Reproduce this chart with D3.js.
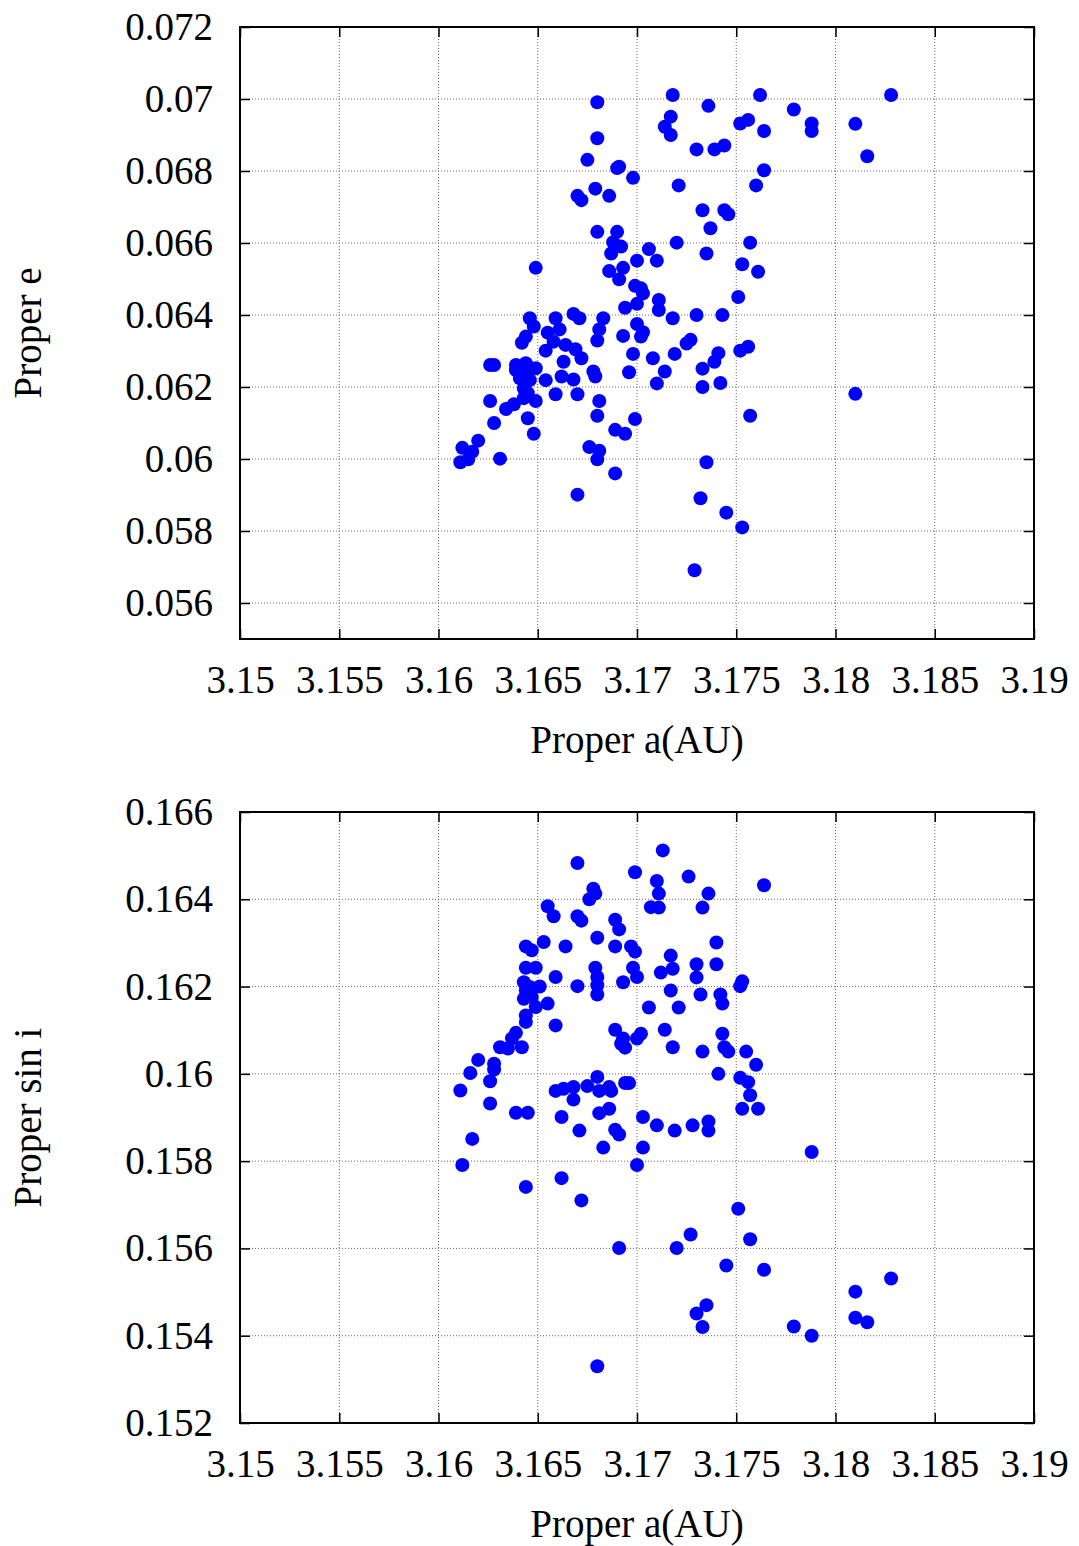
<!DOCTYPE html>
<html>
<head>
<meta charset="utf-8">
<script src="https://cdn.jsdelivr.net/npm/d3@7"></script>
<style>
body { margin: 0; background: #fff; }
text { font-family: "Liberation Serif", "DejaVu Serif", serif; }
</style>
</head>
<body>
<svg id="chart" width="1079" height="1546"></svg>
<script>
// tick values
var aTicks = [3.15, 3.155, 3.16, 3.165, 3.17, 3.175, 3.18, 3.185, 3.19];
var eTicks = [0.056, 0.058, 0.06, 0.062, 0.064, 0.066, 0.068, 0.07, 0.072];
var sinTicks = [0.152, 0.154, 0.156, 0.158, 0.16, 0.162, 0.164, 0.166];

// top panel: proper a vs proper e
var topA = [3.1680, 3.1680, 3.1675, 3.1690, 3.1691, 3.1698, 3.1679, 3.1670, 3.1672, 3.1686,
    3.1680, 3.1690, 3.1688, 3.1692, 3.1687, 3.1706, 3.1710, 3.1700, 3.1649, 3.1686,
    3.1693, 3.1691, 3.1699, 3.1702, 3.1703, 3.1694, 3.1700, 3.1711, 3.1711, 3.1718,
    3.1736, 3.1762, 3.1779, 3.1828, 3.1717, 3.1714, 3.1717, 3.1752, 3.1756, 3.1764,
    3.1788, 3.1788, 3.1810, 3.1730, 3.1739, 3.1744, 3.1816, 3.1764, 3.1721, 3.1760,
    3.1733, 3.1744, 3.1746, 3.1737, 3.1720, 3.1757, 3.1735, 3.1753, 3.1761, 3.1751,
    3.1718, 3.1730, 3.1743, 3.1646, 3.1659, 3.1668, 3.1671, 3.1683, 3.1648, 3.1644,
    3.1642, 3.1655, 3.1661, 3.1681, 3.1680, 3.1693, 3.1700, 3.1703, 3.1702, 3.1658,
    3.1664, 3.1669, 3.1654, 3.1672, 3.1663, 3.1698, 3.1708, 3.1626, 3.1628, 3.1639,
    3.1644, 3.1649, 3.1639, 3.1644, 3.1641, 3.1646, 3.1654, 3.1662, 3.1668, 3.1678,
    3.1679, 3.1696, 3.1714, 3.1710, 3.1643, 3.1645, 3.1643, 3.1659, 3.1649, 3.1670,
    3.1681, 3.1626, 3.1638, 3.1634, 3.1680, 3.1645, 3.1628, 3.1699, 3.1648, 3.1689,
    3.1694, 3.1620, 3.1612, 3.1617, 3.1615, 3.1611, 3.1631, 3.1676, 3.1681, 3.1680,
    3.1689, 3.1670, 3.1727, 3.1725, 3.1719, 3.1741, 3.1739, 3.1752, 3.1756, 3.1733,
    3.1733, 3.1742, 3.1810, 3.1757, 3.1735, 3.1732, 3.1745, 3.1753, 3.1729];
var topE = [0.06991, 0.06891, 0.06831, 0.06808, 0.06812, 0.06781, 0.06751, 0.06731, 0.06719, 0.06731,
    0.06631, 0.06631, 0.06602, 0.06590, 0.06571, 0.06583, 0.06551, 0.06551, 0.06531, 0.06522,
    0.06531, 0.06499, 0.06481, 0.06474, 0.06460, 0.06420, 0.06431, 0.06442, 0.06414, 0.07011,
    0.06981, 0.07011, 0.06971, 0.07011, 0.06951, 0.06923, 0.06900, 0.06932, 0.06942, 0.06911,
    0.06932, 0.06911, 0.06931, 0.06860, 0.06860, 0.06871, 0.06841, 0.06802, 0.06760, 0.06760,
    0.06691, 0.06691, 0.06680, 0.06641, 0.06601, 0.06601, 0.06571, 0.06541, 0.06520, 0.06450,
    0.06391, 0.06400, 0.06400, 0.06391, 0.06391, 0.06403, 0.06391, 0.06391, 0.06368, 0.06340,
    0.06323, 0.06351, 0.06360, 0.06360, 0.06329, 0.06342, 0.06375, 0.06352, 0.06340, 0.06326,
    0.06317, 0.06305, 0.06301, 0.06280, 0.06270, 0.06292, 0.06280, 0.06261, 0.06261, 0.06261,
    0.06266, 0.06252, 0.06247, 0.06243, 0.06224, 0.06219, 0.06219, 0.06229, 0.06221, 0.06243,
    0.06229, 0.06241, 0.06243, 0.06210, 0.06196, 0.06183, 0.06169, 0.06180, 0.06161, 0.06180,
    0.06161, 0.06161, 0.06152, 0.06139, 0.06120, 0.06113, 0.06100, 0.06111, 0.06070, 0.06081,
    0.06070, 0.06051, 0.06031, 0.06020, 0.05999, 0.05991, 0.06001, 0.06033, 0.06023, 0.05999,
    0.05960, 0.05901, 0.06331, 0.06321, 0.06292, 0.06294, 0.06270, 0.06301, 0.06312, 0.06251,
    0.06200, 0.06211, 0.06181, 0.06120, 0.05991, 0.05891, 0.05851, 0.05810, 0.05691];

// bottom panel: proper a vs proper sin i
var botA = [3.1713, 3.1670, 3.1699, 3.1710, 3.1711, 3.1678, 3.1679, 3.1676, 3.1707, 3.1711,
    3.1655, 3.1658, 3.1670, 3.1672, 3.1689, 3.1691, 3.1680, 3.1653, 3.1644, 3.1647,
    3.1664, 3.1689, 3.1697, 3.1699, 3.1644, 3.1649, 3.1698, 3.1700, 3.1679, 3.1680,
    3.1680, 3.1680, 3.1659, 3.1712, 3.1717, 3.1718, 3.1643, 3.1646, 3.1644, 3.1651,
    3.1693, 3.1670, 3.1643, 3.1647, 3.1649, 3.1655, 3.1717, 3.1706, 3.1644, 3.1644,
    3.1659, 3.1639, 3.1637, 3.1631, 3.1635, 3.1642, 3.1689, 3.1693, 3.1692, 3.1694,
    3.1700, 3.1702, 3.1714, 3.1718, 3.1620, 3.1628, 3.1628, 3.1616, 3.1626, 3.1611,
    3.1659, 3.1663, 3.1668, 3.1668, 3.1675, 3.1680, 3.1681, 3.1686, 3.1687, 3.1694,
    3.1696, 3.1726, 3.1764, 3.1736, 3.1733, 3.1740, 3.1730, 3.1740, 3.1730, 3.1753,
    3.1752, 3.1732, 3.1742, 3.1743, 3.1721, 3.1743, 3.1733, 3.1744, 3.1746, 3.1755,
    3.1760, 3.1741, 3.1752, 3.1756, 3.1757, 3.1753, 3.1761, 3.1626, 3.1639, 3.1645,
    3.1662, 3.1671, 3.1681, 3.1686, 3.1689, 3.1691, 3.1683, 3.1703, 3.1710, 3.1719,
    3.1617, 3.1703, 3.1612, 3.1700, 3.1662, 3.1644, 3.1672, 3.1691, 3.1680, 3.1728,
    3.1736, 3.1736, 3.1788, 3.1751, 3.1727, 3.1720, 3.1757, 3.1745, 3.1764, 3.1828,
    3.1810, 3.1735, 3.1730, 3.1733, 3.1810, 3.1816, 3.1779, 3.1788];
var botSinI = [0.16512, 0.16483, 0.16462, 0.16442, 0.16413, 0.16424, 0.16413, 0.16400, 0.16382, 0.16381,
    0.16384, 0.16361, 0.16361, 0.16351, 0.16353, 0.16331, 0.16312, 0.16302, 0.16292, 0.16283,
    0.16292, 0.16292, 0.16292, 0.16280, 0.16243, 0.16243, 0.16243, 0.16222, 0.16243, 0.16222,
    0.16203, 0.16182, 0.16222, 0.16232, 0.16271, 0.16241, 0.16210, 0.16199, 0.16191, 0.16200,
    0.16210, 0.16201, 0.16172, 0.16176, 0.16153, 0.16161, 0.16191, 0.16152, 0.16134, 0.16119,
    0.16111, 0.16094, 0.16081, 0.16061, 0.16058, 0.16061, 0.16101, 0.16081, 0.16069, 0.16060,
    0.16081, 0.16092, 0.16101, 0.16061, 0.16032, 0.16023, 0.16010, 0.16002, 0.15983, 0.15962,
    0.15961, 0.15966, 0.15970, 0.15941, 0.15972, 0.15993, 0.15961, 0.15970, 0.15961, 0.15979,
    0.15979, 0.16452, 0.16432, 0.16413, 0.16381, 0.16301, 0.16251, 0.16251, 0.16221, 0.16212,
    0.16201, 0.16182, 0.16182, 0.16161, 0.16152, 0.16092, 0.16051, 0.16061, 0.16051, 0.16051,
    0.16021, 0.16000, 0.15991, 0.15981, 0.15951, 0.15920, 0.15920, 0.15932, 0.15911, 0.15911,
    0.15901, 0.15870, 0.15910, 0.15920, 0.15872, 0.15861, 0.15831, 0.15901, 0.15882, 0.15870,
    0.15851, 0.15831, 0.15791, 0.15791, 0.15761, 0.15741, 0.15710, 0.15601, 0.15330, 0.15882,
    0.15891, 0.15870, 0.15821, 0.15691, 0.15632, 0.15601, 0.15621, 0.15561, 0.15551, 0.15531,
    0.15501, 0.15470, 0.15451, 0.15420, 0.15441, 0.15431, 0.15421, 0.15400];

var svg = d3.select("#chart");
var fmt = d3.format("~g");
var left = 240, right = 1034;

function drawPanel(top, bottom, xs, ys, yDomain, yTicks, yTitle) {
    var x = d3.scaleLinear().domain([3.15, 3.19]).range([left, right]);
    var y = d3.scaleLinear().domain(yDomain).range([bottom, top]);
    var g = svg.append("g");

    // grid
    g.append("g").selectAll("line.gx")
        .data(aTicks.slice(1, -1))
        .enter().append("line")
        .attr("x1", function (d) { return x(d); })
        .attr("x2", function (d) { return x(d); })
        .attr("y1", top).attr("y2", bottom)
        .attr("stroke", "#666").attr("stroke-width", 1)
        .attr("stroke-dasharray", "1,2");
    g.append("g").selectAll("line.gy")
        .data(yTicks.filter(function (d) { return y(d) > top + 1 && y(d) < bottom - 1; }))
        .enter().append("line")
        .attr("x1", left).attr("x2", right)
        .attr("y1", function (d) { return y(d); })
        .attr("y2", function (d) { return y(d); })
        .attr("stroke", "#666").attr("stroke-width", 1)
        .attr("stroke-dasharray", "1,2");

    // points
    g.append("g").selectAll("circle")
        .data(xs.map(function (v, i) { return [v, ys[i]]; }))
        .enter().append("circle")
        .attr("cx", function (d) { return x(d[0]); })
        .attr("cy", function (d) { return y(d[1]); })
        .attr("r", 7)
        .attr("fill", "#0000ff");

    // axes, ticks pointing inward
    var ax = g.append("g").attr("transform", "translate(0," + bottom + ")")
        .call(d3.axisBottom(x).tickValues(aTicks).tickSize(-10).tickPadding(26).tickFormat(fmt));
    var ay = g.append("g").attr("transform", "translate(" + left + ",0)")
        .call(d3.axisLeft(y).tickValues(yTicks).tickSize(-10).tickPadding(27).tickFormat(fmt));
    var ax2 = g.append("g").attr("transform", "translate(0," + top + ")")
        .call(d3.axisTop(x).tickValues(aTicks).tickSize(-10).tickFormat(""));
    var ay2 = g.append("g").attr("transform", "translate(" + right + ",0)")
        .call(d3.axisRight(y).tickValues(yTicks).tickSize(-10).tickFormat(""));
    [ax, ay, ax2, ay2].forEach(function (a) {
        a.select(".domain").remove();
        a.selectAll("line").attr("stroke", "#000").attr("stroke-width", 1.5);
        a.selectAll("text").attr("font-size", 39).attr("font-family", "Liberation Serif").attr("fill", "#000");
    });

    g.append("rect")
        .attr("x", left).attr("y", top)
        .attr("width", right - left).attr("height", bottom - top)
        .attr("fill", "none").attr("stroke", "#000").attr("stroke-width", 2);

    g.append("text")
        .attr("x", (left + right) / 2).attr("y", bottom + 114)
        .attr("text-anchor", "middle").attr("font-size", 39)
        .text("Proper a(AU)");
    g.append("text")
        .attr("transform", "translate(41," + (top + bottom) / 2 + ") rotate(-90)")
        .attr("text-anchor", "middle").attr("font-size", 39)
        .text(yTitle);
}

drawPanel(27, 639, topA, topE, [0.055, 0.072], eTicks, "Proper e");
drawPanel(812, 1423, botA, botSinI, [0.152, 0.166], sinTicks, "Proper sin i");
</script>
</body>
</html>
